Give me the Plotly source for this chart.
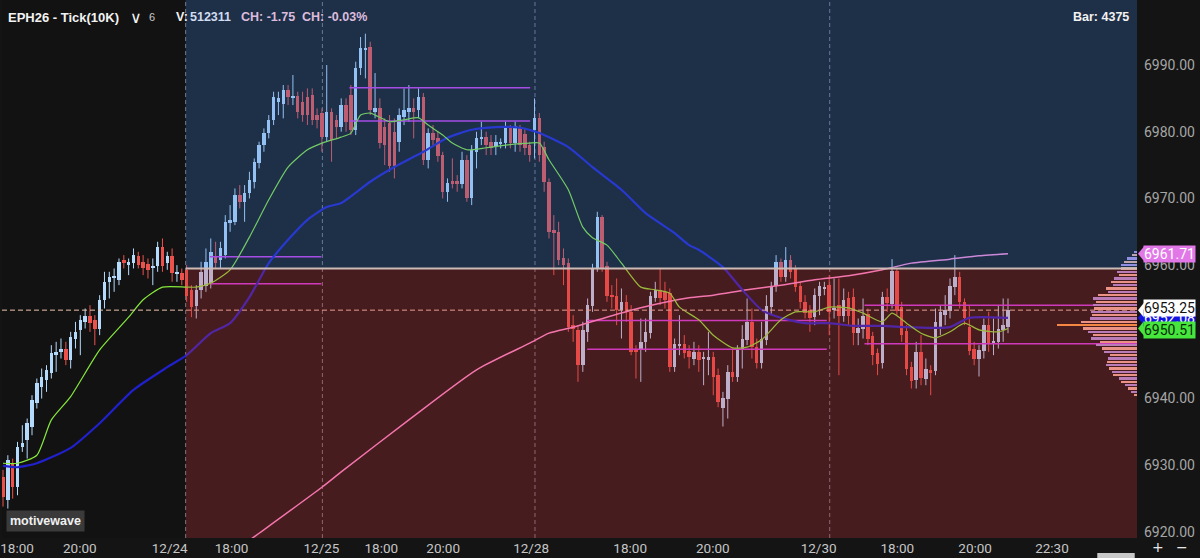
import plotly.graph_objects as go

# ---------------- data ----------------
opens = [6928.3, 6924.8, 6930.3, 6926.8, 6932.8, 6933.8, 6935.8, 6939.3, 6941.8, 6942.8,
         6943.8, 6946.5, 6947.0, 6947.5, 6945.8, 6949.0, 6950.3, 6951.5, 6952.3, 6951.8,
         6950.5, 6954.8, 6957.5, 6958.0, 6957.8, 6960.8, 6960.0, 6960.3, 6961.3, 6960.5,
         6960.2, 6959.7, 6959.8, 6962.7, 6960.3, 6961.3, 6958.8, 6958.8, 6959.3, 6956.3,
         6953.8, 6956.3, 6956.8, 6957.3, 6961.3, 6960.8, 6961.5, 6966.3, 6966.5, 6970.5,
         6969.5, 6970.8, 6972.5, 6975.3, 6978.0, 6979.8, 6981.8, 6984.5, 6984.2, 6986.3,
         6985.2, 6985.3, 6984.5, 6985.2, 6985.5, 6982.5, 6982.8, 6979.2, 6983.0, 6981.7,
         6980.7, 6984.0, 6985.5, 6980.3, 6989.5, 6992.3, 6992.7, 6983.0, 6983.5, 6980.7,
         6981.3, 6980.0, 6978.5, 6982.2, 6983.0, 6983.5, 6983.2, 6985.2, 6975.8, 6979.8,
         6979.0, 6976.5, 6971.0, 6972.6, 6972.6, 6972.2, 6975.8, 6970.1, 6977.0, 6979.0,
         6979.2, 6978.5, 6977.8, 6978.3, 6978.3, 6980.8, 6978.3, 6980.5, 6979.7, 6978.0,
         6980.3, 6982.0, 6977.7, 6972.5, 6965.3, 6965.0, 6961.0, 6960.3, 6951.0, 6950.3,
         6945.0, 6950.0, 6953.8, 6959.6, 6967.2, 6959.8, 6955.5, 6955.3, 6953.3, 6954.5,
         6953.0, 6947.5, 6947.3, 6948.5, 6949.8, 6955.0, 6956.3, 6956.0, 6955.8, 6944.8,
         6948.0, 6948.2, 6947.2, 6946.0, 6947.0, 6946.0, 6945.8, 6946.3, 6943.5, 6938.6,
         6939.9, 6944.0, 6943.3, 6947.3, 6948.8, 6951.4, 6947.8, 6945.4, 6948.8, 6953.7,
         6956.8, 6960.5, 6958.2, 6960.8, 6959.4, 6956.8, 6954.5, 6953.3, 6952.2, 6955.3,
         6956.5, 6957.0, 6953.3, 6954.0, 6952.3, 6955.0, 6955.2, 6949.9, 6950.5, 6952.6,
         6949.4, 6946.8, 6945.4, 6955.2, 6954.1, 6959.1, 6953.7, 6950.1, 6944.8, 6942.8,
         6947.0, 6943.0, 6944.3, 6944.1, 6950.4, 6952.5, 6953.1, 6956.7, 6958.2, 6954.5,
         6950.8, 6947.5, 6946.0, 6947.1, 6951.0, 6948.2, 6948.5, 6950.3, 6950.8]
highs = [6929.3, 6931.5, 6931.0, 6933.5, 6936.0, 6937.0, 6940.5, 6943.0, 6944.5, 6945.0,
         6948.0, 6948.5, 6949.0, 6948.5, 6950.0, 6951.5, 6952.5, 6953.5, 6954.0, 6952.5,
         6955.5, 6959.0, 6959.0, 6959.5, 6961.0, 6961.5, 6961.0, 6962.5, 6962.0, 6961.5,
         6961.0, 6961.0, 6963.5, 6964.0, 6962.0, 6962.5, 6960.0, 6959.5, 6960.0, 6957.0,
         6957.0, 6960.5, 6962.5, 6964.0, 6963.5, 6963.5, 6967.5, 6969.0, 6971.5, 6972.0,
         6972.0, 6974.0, 6976.0, 6978.5, 6980.5, 6982.5, 6986.0, 6986.0, 6987.0, 6987.0,
         6988.5, 6986.0, 6986.0, 6986.5, 6986.5, 6983.5, 6983.5, 6990.0, 6983.5, 6982.5,
         6985.0, 6985.0, 6987.0, 6990.5, 6994.2, 6994.7, 6993.5, 6988.8, 6985.0, 6982.0,
         6982.5, 6982.0, 6983.5, 6986.5, 6987.0, 6985.0, 6986.5, 6985.8, 6980.5, 6981.0,
         6980.0, 6977.0, 6973.0, 6976.0, 6973.5, 6977.0, 6976.5, 6978.0, 6980.0, 6981.5,
         6980.0, 6979.5, 6979.5, 6979.0, 6981.5, 6981.0, 6981.5, 6981.0, 6980.5, 6978.5,
         6985.0, 6982.8, 6978.5, 6973.0, 6967.5, 6966.5, 6962.5, 6961.0, 6952.5, 6951.0,
         6951.5, 6955.0, 6960.2, 6968.0, 6967.5, 6960.5, 6957.0, 6958.0, 6956.5, 6955.5,
         6954.0, 6948.0, 6952.0, 6952.0, 6956.0, 6957.5, 6959.5, 6957.5, 6956.5, 6949.0,
         6952.5, 6949.5, 6948.0, 6948.5, 6948.0, 6947.0, 6950.0, 6947.0, 6944.5, 6941.0,
         6945.0, 6947.5, 6948.0, 6951.0, 6955.0, 6953.5, 6949.0, 6951.5, 6955.5, 6957.5,
         6961.5, 6961.0, 6962.7, 6961.5, 6960.0, 6957.5, 6955.5, 6954.0, 6956.5, 6957.5,
         6957.5, 6958.5, 6958.0, 6958.0, 6956.5, 6956.0, 6956.5, 6952.0, 6955.0, 6953.5,
         6950.0, 6947.5, 6956.0, 6956.5, 6960.9, 6959.5, 6954.5, 6951.0, 6945.5, 6948.5,
         6949.5, 6946.0, 6945.0, 6953.5, 6954.0, 6955.5, 6958.0, 6961.5, 6959.0, 6955.0,
         6954.0, 6948.5, 6948.0, 6952.0, 6953.0, 6952.0, 6954.0, 6955.0, 6955.0]
lows = [6923.8, 6923.5, 6925.0, 6925.5, 6932.0, 6931.0, 6934.5, 6938.5, 6940.0, 6941.0,
        6943.0, 6944.0, 6946.0, 6945.0, 6944.5, 6947.5, 6946.5, 6950.5, 6950.0, 6948.0,
        6949.5, 6953.5, 6955.0, 6956.0, 6957.0, 6959.5, 6958.5, 6959.5, 6959.5, 6958.5,
        6958.0, 6957.0, 6959.0, 6959.0, 6959.3, 6957.5, 6957.5, 6957.0, 6954.5, 6952.2,
        6952.0, 6955.0, 6956.0, 6956.5, 6959.5, 6959.5, 6961.0, 6965.0, 6966.0, 6968.5,
        6966.5, 6970.0, 6971.5, 6974.5, 6977.0, 6979.0, 6981.0, 6982.5, 6982.0, 6984.0,
        6984.0, 6982.0, 6981.5, 6981.0, 6981.0, 6980.5, 6977.0, 6978.5, 6975.5, 6979.0,
        6980.0, 6980.0, 6979.5, 6979.5, 6988.5, 6988.0, 6982.5, 6982.0, 6977.5, 6975.0,
        6974.0, 6973.0, 6977.0, 6981.0, 6981.5, 6979.0, 6982.0, 6975.0, 6974.5, 6978.0,
        6975.5, 6970.0, 6969.5, 6971.5, 6971.0, 6971.5, 6969.5, 6969.0, 6974.5, 6978.0,
        6976.5, 6976.5, 6976.5, 6977.5, 6977.5, 6977.5, 6977.0, 6977.0, 6976.5, 6975.5,
        6976.0, 6975.5, 6971.0, 6964.0, 6958.5, 6960.0, 6957.0, 6950.0, 6948.5, 6942.5,
        6944.0, 6948.5, 6953.0, 6959.0, 6959.0, 6954.5, 6953.5, 6951.0, 6949.0, 6951.5,
        6946.5, 6943.0, 6942.5, 6947.0, 6949.0, 6954.5, 6954.0, 6953.5, 6944.0, 6944.0,
        6946.5, 6946.0, 6944.5, 6945.0, 6944.0, 6942.0, 6943.5, 6940.5, 6938.7, 6935.8,
        6937.0, 6942.5, 6942.5, 6944.5, 6948.0, 6946.0, 6944.5, 6944.5, 6948.0, 6952.5,
        6956.0, 6957.5, 6957.5, 6958.0, 6956.0, 6953.5, 6952.0, 6950.0, 6951.0, 6952.5,
        6955.5, 6949.5, 6952.0, 6943.5, 6951.5, 6951.0, 6948.0, 6948.0, 6949.0, 6948.0,
        6945.0, 6943.5, 6944.5, 6953.0, 6953.5, 6952.5, 6948.5, 6943.5, 6941.5, 6941.5,
        6942.0, 6942.0, 6940.5, 6943.5, 6949.5, 6951.0, 6952.0, 6955.5, 6953.5, 6951.0,
        6946.5, 6945.0, 6943.3, 6946.0, 6947.0, 6946.5, 6947.5, 6948.5, 6949.8]
closes = [6925.3, 6930.8, 6926.8, 6932.8, 6933.3, 6936.3, 6939.8, 6942.3, 6943.3, 6944.3,
          6946.8, 6947.0, 6947.5, 6945.8, 6949.2, 6950.0, 6951.8, 6952.3, 6951.3, 6950.5,
          6954.8, 6957.5, 6958.2, 6958.3, 6960.5, 6960.3, 6960.5, 6961.5, 6960.0, 6959.5,
          6959.3, 6959.8, 6962.7, 6959.8, 6961.3, 6958.8, 6958.9, 6957.8, 6955.3, 6953.7,
          6956.3, 6959.0, 6960.5, 6962.0, 6960.3, 6962.5, 6966.5, 6966.8, 6970.5, 6969.5,
          6970.8, 6972.8, 6975.5, 6978.0, 6979.8, 6981.8, 6985.2, 6985.0, 6986.3, 6985.2,
          6985.3, 6983.0, 6982.5, 6982.5, 6981.8, 6981.8, 6979.2, 6983.0, 6978.8, 6980.7,
          6984.0, 6981.5, 6980.3, 6989.5, 6992.6, 6992.6, 6983.3, 6983.5, 6978.3, 6978.0,
          6974.8, 6974.8, 6982.5, 6983.2, 6983.5, 6983.0, 6985.2, 6975.8, 6979.8, 6978.8,
          6976.3, 6971.0, 6972.3, 6972.2, 6972.2, 6975.8, 6970.1, 6977.3, 6979.0, 6979.2,
          6978.0, 6977.5, 6978.5, 6978.4, 6980.8, 6978.3, 6980.8, 6978.0, 6977.5, 6976.5,
          6982.0, 6976.5, 6972.5, 6965.0, 6964.8, 6960.8, 6960.0, 6950.7, 6950.5, 6945.0,
          6950.3, 6954.0, 6959.6, 6967.2, 6959.5, 6955.3, 6955.2, 6953.3, 6954.5, 6953.0,
          6947.0, 6947.0, 6948.5, 6950.0, 6955.3, 6956.3, 6955.0, 6954.8, 6944.8, 6948.2,
          6948.2, 6946.9, 6946.2, 6947.0, 6945.8, 6946.1, 6946.3, 6943.2, 6939.5, 6940.1,
          6944.0, 6943.3, 6947.4, 6949.0, 6951.4, 6947.8, 6945.4, 6949.0, 6953.8, 6956.8,
          6960.5, 6958.2, 6960.8, 6959.0, 6956.7, 6954.4, 6952.8, 6952.0, 6955.5, 6956.8,
          6956.6, 6952.9, 6953.6, 6952.3, 6954.8, 6952.3, 6949.9, 6950.6, 6952.4, 6949.0,
          6946.6, 6945.2, 6955.2, 6954.3, 6959.1, 6953.1, 6949.6, 6944.4, 6942.6, 6947.0,
          6943.1, 6944.5, 6943.8, 6951.4, 6952.9, 6953.3, 6956.8, 6958.2, 6954.5, 6952.0,
          6947.1, 6946.0, 6947.3, 6951.0, 6948.3, 6948.7, 6950.5, 6951.0, 6953.25]

# moving averages (bar index, value)
green_idx = [0, 3, 7, 10, 14, 20, 26, 29, 33, 38, 40, 43, 47, 51, 55, 59, 63, 66, 70, 72,
             74, 76, 80, 83, 86, 88, 91, 93, 96, 100, 104, 109, 111, 113, 117, 120, 122, 125, 128, 132,
             135, 138, 140, 144, 147, 151, 154, 157, 161, 164, 168, 171, 175, 178, 182, 184, 187, 190, 193, 196,
             199, 202, 206, 208]
green_val = [6930.3, 6930.3, 6931.5, 6936.8, 6940.3, 6947.3, 6952.2, 6954.8, 6956.7, 6956.7,
             6956.7, 6957.3, 6959.3, 6964.2, 6969.8, 6974.7, 6977.3, 6978.3, 6979.2, 6979.8,
             6982.5, 6982.8, 6981.5, 6981.8, 6982.1, 6981.0, 6979.5, 6978.3, 6977.3, 6977.6,
             6978.0, 6978.3, 6978.3, 6975.8, 6971.3, 6965.7, 6964.1, 6963.0, 6960.3, 6956.7,
             6956.3, 6955.8, 6953.7, 6951.8, 6949.5, 6947.6, 6947.7, 6948.8, 6951.8, 6953.0,
             6953.0, 6953.7, 6953.6, 6952.8, 6951.5, 6952.8, 6951.3, 6949.8, 6949.1, 6950.0,
             6951.3, 6950.3, 6950.0, 6950.51]
blue_idx = [0, 3, 7, 14, 20, 27, 34, 38, 43, 47, 51, 55, 59, 63, 67, 70, 76, 81, 87, 92,
            97, 102, 107, 111, 117, 122, 128, 133, 139, 142, 144, 149, 153, 157, 161, 166, 171, 176, 182, 187,
            193, 196, 200, 208]
blue_val = [6929.9, 6929.7, 6930.3, 6932.6, 6936.3, 6941.3, 6944.7, 6946.5, 6949.8, 6951.3,
            6955.2, 6960.3, 6963.8, 6966.8, 6968.7, 6969.3, 6972.5, 6974.7, 6977.0, 6979.1,
            6980.3, 6980.7, 6980.6, 6979.8, 6977.7, 6974.7, 6971.3, 6967.8, 6964.8, 6963.0,
            6962.3, 6959.7, 6956.3, 6953.3, 6952.1, 6951.3, 6951.3, 6950.9, 6950.9, 6950.7,
            6950.6, 6950.7, 6952.1, 6952.08]
pink_idx = [49, 53, 66, 70, 84, 98, 109, 113, 118, 125, 132, 142, 147, 154, 161, 168, 175, 182, 188, 196, 202, 208]
pink_val = [6917.7, 6919.8, 6926.7, 6929.0, 6936.8, 6944.3, 6948.3, 6949.8, 6950.7, 6952.2,
            6953.6, 6955.1, 6955.5, 6956.3, 6957.0, 6957.8, 6958.4, 6959.3, 6960.3, 6960.9, 6961.4, 6961.71]

session_breaks = [37.8, 66.1, 110.1, 171.1]
session_open = 6959.5
last_price = 6953.25

# value-area lines: price, first bar, last bar
va_price = [6961.25, 6957.2, 6986.6, 6981.6, 6951.7, 6947.4, 6954.0, 6948.2]
va_start = [42.8, 42.8, 71.7, 71.7, 120.9, 120.9, 178.3, 178.3]
va_end = [65.9, 65.9, 109.1, 109.1, 170.5, 170.5, 240.0, 240.0]

# volume profile
vp_prices = [6940.5 + 0.5 * k for k in range(44)]
vp_vol = [150, 300, 450, 600, 800, 900, 1150, 1200, 1350, 1500,
          1450, 1400, 1300, 1600, 1700, 2000, 1800, 2250, 2150, 2400,
          2650, 3900, 2750, 2300, 2200, 2250, 2100, 2150, 2000, 2150,
          1900, 1400, 1500, 1150, 1250, 1100, 900, 1000, 800, 800,
          650, 500, 250, 150]

tick_idx = [2.9, 15.9, 34.5, 47.3, 65.9, 78.3, 91.1, 109.3, 129.8, 146.9, 168.8, 185.1, 201.2, 217.1]
tick_text = ["18:00", "20:00", "12/24", "18:00", "12/25", "18:00", "20:00", "12/28",
             "18:00", "20:00", "12/30", "18:00", "20:00", "22:30"]
price_ticks = [6920, 6930, 6940, 6950, 6960, 6970, 6980, 6990]

# ---------------- figure ----------------
UP = "rgb(180,218,252)"
DN = "rgb(236,82,76)"
FONT = "Roboto"
PLOT_W = 1137

n = len(opens)
idx = list(range(n))
up = [c >= o for o, c in zip(opens, closes)]
body_base = [min(o, c) for o, c in zip(opens, closes)]
body_h = [max(abs(c - o), 0.15) for o, c in zip(opens, closes)]
body_col = [UP if u else DN for u in up]

fig = go.Figure()

for sel, col in ((True, UP), (False, DN)):
    xs, ys = [], []
    for i in range(n):
        if up[i] == sel:
            xs += [i, i, None]
            ys += [lows[i], highs[i], None]
    fig.add_trace(go.Scatter(x=xs, y=ys, mode="lines", line=dict(color=col, width=1),
                             hoverinfo="skip"))

fig.add_trace(go.Bar(x=idx, y=body_h, base=body_base, width=0.72,
                     marker=dict(color=body_col, line=dict(width=0)), hoverinfo="skip"))

# value area lines
vx, vy = [], []
for p, s, e in zip(va_price, va_start, va_end):
    vx += [s, e, None]
    vy += [p, p, None]
fig.add_trace(go.Scatter(x=vx, y=vy, mode="lines", line=dict(color="rgb(205,60,235)", width=1.5),
                         hoverinfo="skip"))

# moving averages
fig.add_trace(go.Scatter(x=pink_idx, y=pink_val, mode="lines",
                         line=dict(color="rgb(255,140,215)", width=1.5, shape="spline", smoothing=0.6),
                         hoverinfo="skip"))
fig.add_trace(go.Scatter(x=blue_idx, y=blue_val, mode="lines",
                         line=dict(color="rgb(32,32,205)", width=2.2, shape="spline", smoothing=0.6),
                         hoverinfo="skip"))
fig.add_trace(go.Scatter(x=green_idx, y=green_val, mode="lines",
                         line=dict(color="rgb(135,232,60)", width=1.2, shape="spline", smoothing=0.6),
                         hoverinfo="skip"))

# volume profile
poc = vp_vol.index(max(vp_vol))
vp_col = []
for k in range(len(vp_vol)):
    if k == poc:
        vp_col.append("rgb(255,165,70)")
    elif k % 2 == 0:
        vp_col.append("rgb(240,180,160)")
    else:
        vp_col.append("rgb(175,150,230)")
fig.add_trace(go.Bar(y=vp_prices, x=vp_vol, orientation="h", xaxis="x2", width=0.36,
                     marker=dict(color=vp_col, line=dict(width=0)), hoverinfo="skip"))

shapes = []
for b in session_breaks:
    shapes.append(dict(type="line", xref="x", yref="paper", x0=b, x1=b, y0=0, y1=1,
                       line=dict(color="rgb(120,120,132)", width=1, dash="4px,3px"), layer="below"))
shapes.append(dict(type="line", xref="paper", yref="y", x0=0, x1=1, y0=last_price, y1=last_price,
                   line=dict(color="rgb(235,195,175)", width=1, dash="5px,3px"), layer="above"))
shapes.append(dict(type="rect", xref="x", yref="y", x0=session_breaks[0], x1=240,
                   y0=session_open, y1=7010, fillcolor="rgba(63,126,219,0.27)",
                   line=dict(width=0), layer="above"))
shapes.append(dict(type="rect", xref="x", yref="y", x0=session_breaks[0], x1=240,
                   y0=6900, y1=session_open, fillcolor="rgba(215,56,63,0.27)",
                   line=dict(width=0), layer="above"))
shapes.append(dict(type="line", xref="x", yref="y", x0=session_breaks[0], x1=240,
                   y0=session_open, y1=session_open,
                   line=dict(color="rgb(205,188,182)", width=2), layer="above"))
# scrollbar thumb
shapes.append(dict(type="rect", xref="paper", yref="paper", x0=0.965, x1=0.998, y0=-0.028, y1=-0.045,
                   fillcolor="rgb(200,200,200)", line=dict(width=0), layer="above"))

ann = []
def hdr(text, xpx, color, size=13, bold=True, family="Liberation Sans"):
    ann.append(dict(text=("<b>%s</b>" % text) if bold else text, xref="paper", yref="paper",
                    x=0, y=1, xanchor="left", yanchor="middle", xshift=xpx, yshift=-17,
                    showarrow=False, font=dict(family=family, size=size, color=color)))

hdr("EPH26 - Tick(10K)", 4, "#f2f2f2")
hdr("∨", 126, "#f2f2f2", size=16, bold=False, family="DejaVu Sans")
hdr("6", 145, "#c8c8c8", size=11, bold=False)
hdr("V:", 172, "#f2f2f2", size=12.5)
hdr("512311", 186, "#d0dcf0", size=12.5)
hdr("CH: -1.75", 237, "#dcbcdc", size=12.5)
hdr("CH: -0.03%", 298, "#dcbcdc", size=12.5)
ann.append(dict(text="<b>Bar: 4375</b>", xref="paper", yref="paper", x=1, y=1, xanchor="right",
                yanchor="middle", xshift=-6, yshift=-17, showarrow=False,
                font=dict(family="Liberation Sans", size=12.5, color="#f2f2f2")))

# motivewave badge
ann.append(dict(text="<b>motivewave</b>", xref="paper", yref="paper", x=0, y=0, xanchor="left",
                yanchor="middle", xshift=4, yshift=17, showarrow=False, bgcolor="#3a3a3a",
                borderpad=3, font=dict(family="Liberation Sans", size=12.5, color="#f0f0f0")))

# price tags on the axis (with small pointer)
def tag(price, bg, fg, dy=0):
    ann.append(dict(text="%.2f" % price, xref="paper", yref="y", x=1, y=price, xanchor="left",
                    yanchor="middle", xshift=6, yshift=dy, showarrow=False, bgcolor=bg, borderpad=0,
                    font=dict(family=FONT, size=14, color=fg)))
    shapes.append(dict(type="path", xref="paper", yref="y",
                       path="M %f,%f L %f,%f L %f,%f Z" % (1 + 1.0 / PLOT_W, price,
                                                           1 + 7.0 / PLOT_W, price + 1.1,
                                                           1 + 7.0 / PLOT_W, price - 1.1),
                       fillcolor=bg, line=dict(width=0), layer="above"))

tag(pink_val[-1], "rgb(226,120,232)", "#ffffff")
tag(blue_val[-1], "rgb(20,20,225)", "#ffffff")
tag(green_val[-1], "rgb(70,230,60)", "#0a2a0a", dy=-2)
tag(last_price, "#ffffff", "#111111", dy=2)

# zoom controls
ann.append(dict(text="+", xref="paper", yref="paper", x=1, y=0, xanchor="left", yanchor="middle",
                xshift=14, yshift=-9, borderpad=0, showarrow=False,
                font=dict(family="DejaVu Sans", size=14, color="#e8e8e8")))
ann.append(dict(text="−", xref="paper", yref="paper", x=1, y=0, xanchor="left", yanchor="middle",
                xshift=38, yshift=-9, borderpad=0, showarrow=False,
                font=dict(family="DejaVu Sans", size=14, color="#e8e8e8")))

fig.update_layout(
    width=1200, height=558,
    margin=dict(l=0, r=63, t=0, b=20),
    paper_bgcolor="#141414", plot_bgcolor="#121212",
    showlegend=False, barmode="overlay", bargap=0,
    xaxis=dict(range=[-0.21, 234.7], tickvals=tick_idx, ticktext=tick_text, showgrid=False,
               zeroline=False, showline=False, ticks="", fixedrange=True, ticklabeloverflow="allow",
               tickfont=dict(family=FONT, size=13.5, color="#c6c6c6")),
    xaxis2=dict(overlaying="x", range=[max(vp_vol) * PLOT_W / 80, 0], visible=False, fixedrange=True),
    yaxis=dict(range=[6919.09, 6999.75], side="right", tickvals=price_ticks, tickformat=".2f",
               showgrid=False, zeroline=False, showline=False, ticks="", fixedrange=True,
               ticklabelstandoff=6, tickfont=dict(family=FONT, size=14, color="#a6a6a6")),
    shapes=shapes, annotations=ann,
)

fig.write_html("out.html", config={"displayModeBar": False},
               post_script="document.body.style.margin='0';document.body.style.overflow='hidden';")
